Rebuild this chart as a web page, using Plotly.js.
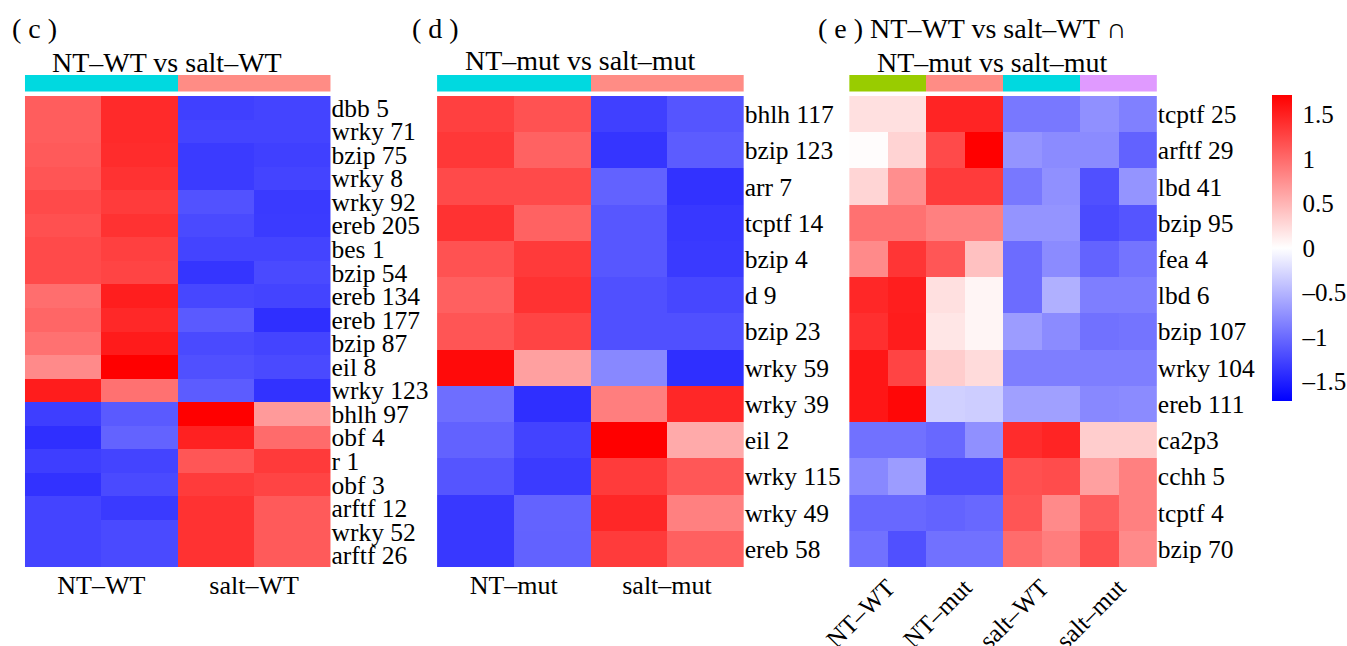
<!DOCTYPE html>
<html>
<head>
<meta charset="utf-8">
<script src="https://cdn.plot.ly/plotly-3.0.1.min.js"></script>
<style>html,body{margin:0;padding:0;background:#fff;}#chart{width:1347px;height:646px;}</style>
</head>
<body>
<div id="chart"></div>
<script>
// ---------- DATA ----------
const panelCGroups = ["NT–WT", "salt–WT"];
const panelCGroupColors = ["#00D9E0", "#FF8C85"];
const panelCColumnGroup = [0, 0, 1, 1];
const panelCRows = ["dbb 5","wrky 71","bzip 75","wrky 8","wrky 92","ereb 205","bes 1","bzip 54","ereb 134","ereb 177","bzip 87","eil 8","wrky 123","bhlh 97","obf 4","r 1","obf 3","arftf 12","wrky 52","arftf 26"];
const panelCValues = [
  [1.09, 1.44, -1.29, -1.26],
  [1.09, 1.44, -1.26, -1.26],
  [1.11, 1.42, -1.32, -1.29],
  [1.15, 1.38, -1.32, -1.26],
  [1.22, 1.32, -1.17, -1.33],
  [1.18, 1.38, -1.22, -1.32],
  [1.22, 1.29, -1.26, -1.26],
  [1.22, 1.26, -1.36, -1.22],
  [0.98, 1.52, -1.24, -1.26],
  [1.03, 1.45, -1.11, -1.40],
  [0.96, 1.54, -1.22, -1.26],
  [0.79, 1.72, -1.18, -1.22],
  [1.53, 0.96, -1.10, -1.38],
  [-1.30, -1.11, 1.72, 0.68],
  [-1.40, -1.05, 1.50, 1.00],
  [-1.30, -1.26, 1.14, 1.33],
  [-1.38, -1.22, 1.32, 1.26],
  [-1.26, -1.33, 1.38, 1.11],
  [-1.26, -1.22, 1.38, 1.11],
  [-1.26, -1.22, 1.38, 1.11]
];

const panelDGroups = ["NT–mut", "salt–mut"];
const panelDGroupColors = ["#00D9E0", "#FF8C85"];
const panelDColumnGroup = [0, 0, 1, 1];
const panelDRows = ["bhlh 117","bzip 123","arr 7","tcptf 14","bzip 4","d 9","bzip 23","wrky 59","wrky 39","eil 2","wrky 115","wrky 49","ereb 58"];
const panelDValues = [
  [1.29, 1.17, -1.29, -1.15],
  [1.34, 1.06, -1.36, -1.10],
  [1.22, 1.22, -1.06, -1.38],
  [1.38, 1.06, -1.13, -1.34],
  [1.17, 1.33, -1.13, -1.33],
  [1.07, 1.38, -1.18, -1.24],
  [1.15, 1.26, -1.18, -1.18],
  [1.65, 0.64, -0.80, -1.40],
  [-0.98, -1.40, 0.87, 1.46],
  [-1.06, -1.27, 1.72, 0.57],
  [-1.15, -1.32, 1.32, 1.13],
  [-1.34, -1.05, 1.46, 0.86],
  [-1.34, -1.06, 1.32, 1.07]
];

const panelEGroups = ["NT–WT", "NT–mut", "salt–WT", "salt–mut"];
const panelEGroupColors = ["#99CC00", "#FF8C85", "#00D9E0", "#E09AFF"];
const panelEColumnGroup = [0, 0, 1, 1, 2, 2, 3, 3];
const panelERows = ["tcptf 25","arftf 29","lbd 41","bzip 95","fea 4","lbd 6","bzip 107","wrky 104","ereb 111","ca2p3","cchh 5","tcptf 4","bzip 70"];
const panelEValues = [
  [0.21, 0.21, 1.48, 1.48, -0.91, -0.91, -0.75, -0.86],
  [0.02, 0.30, 1.22, 1.72, -0.72, -0.78, -0.78, -1.06],
  [0.28, 0.76, 1.32, 1.32, -0.91, -0.75, -1.18, -0.72],
  [0.96, 0.96, 0.86, 0.86, -0.72, -0.72, -1.22, -1.15],
  [0.79, 1.36, 1.14, 0.42, -0.99, -0.78, -1.05, -0.94],
  [1.46, 1.52, 0.21, 0.07, -0.99, -0.53, -0.87, -0.87],
  [1.40, 1.53, 0.17, 0.07, -0.67, -0.78, -0.96, -0.94],
  [1.57, 1.26, 0.34, 0.24, -0.87, -0.87, -0.87, -0.87],
  [1.57, 1.67, -0.32, -0.34, -0.64, -0.64, -0.80, -0.78],
  [-0.96, -0.96, -1.02, -0.75, 1.42, 1.48, 0.34, 0.34],
  [-0.80, -0.67, -1.21, -1.21, 1.18, 1.21, 0.64, 0.86],
  [-1.02, -1.02, -1.05, -1.02, 1.15, 0.79, 1.09, 0.86],
  [-0.96, -1.18, -0.96, -0.96, 0.99, 0.88, 1.19, 0.79]
];

const colorbarTicks = [-1.5, -1, -0.5, 0, 0.5, 1, 1.5];
const colorbarTickText = ["–1.5", "–1", "–0.5", "0", "0.5", "1", "1.5"];
const zLimit = 1.72;

// ---------- LAYOUT HELPERS ----------
const W = 1347, H = 646;
const FONT = "'Liberation Serif', 'Times New Roman', serif";
const fx = px => px / W;
const fy = py => 1 - py / H;

const panels = [
  {rows: panelCRows, vals: panelCValues, groups: panelCGroups, colors: panelCGroupColors, colGroup: panelCColumnGroup,
   x0: 25, x1: 332, rotate: false},
  {rows: panelDRows, vals: panelDValues, groups: panelDGroups, colors: panelDGroupColors, colGroup: panelDColumnGroup,
   x0: 439, x1: 747, rotate: false},
  {rows: panelERows, vals: panelEValues, groups: panelEGroups, colors: panelEGroupColors, colGroup: panelEColumnGroup,
   x0: 853, x1: 1162, rotate: true}
];
const hmTop = 96, hmBottom = 567, annTop = 75, annBottom = 91.5;

const data = [];
const layout = {
  width: W, height: H,
  margin: {l: 0, r: 0, t: 0, b: 0},
  paper_bgcolor: "#fff", plot_bgcolor: "#fff",
  font: {family: FONT, color: "#000", size: 24},
  showlegend: false,
  coloraxis: {
    cmin: -zLimit, cmax: zLimit,
    colorscale: [[0, "#0000FF"], [0.5, "#FFFFFF"], [1, "#FF0000"]],
    colorbar: {
      x: fx(1278), xanchor: "left", xpad: 0, ypad: 0,
      y: fy(95), yanchor: "top",
      len: 306 / H, lenmode: "fraction",
      thickness: 20, thicknessmode: "pixels",
      outlinewidth: 0, ticks: "outside", ticklen: 6, tickcolor: "rgba(0,0,0,0)",
      tickmode: "array", tickvals: colorbarTicks, ticktext: colorbarTickText,
      tickfont: {family: FONT, size: 25, color: "#000"}
    }
  },
  annotations: []
};

panels.forEach((p, i) => {
  const n = i + 1;
  const xa = n === 1 ? "x" : "x" + n;
  const ya = n === 1 ? "y" : "y" + n;
  const yaAnn = "y" + (n + 3);
  const ncol = p.colGroup.length;
  const cols = p.colGroup.map((g, j) => j);
  // heatmap
  data.push({
    type: "heatmap", x: cols, y: p.rows, z: p.vals,
    xaxis: xa, yaxis: ya, coloraxis: "coloraxis",
    hoverinfo: "skip"
  });
  // group annotation bar
  const ng = p.groups.length;
  const cs = p.colors.map((c, k) => [ng === 1 ? 0 : k / (ng - 1), c]);
  data.push({
    type: "heatmap", x: cols, y: [0], z: [p.colGroup],
    xaxis: xa, yaxis: yaAnn, zmin: 0, zmax: ng - 1,
    colorscale: cs, showscale: false, hoverinfo: "skip"
  });
  // group label positions (centre of each group)
  const tickvals = p.groups.map((g, k) => {
    const idx = cols.filter(j => p.colGroup[j] === k);
    return (idx[0] + idx[idx.length - 1]) / 2;
  });
  layout["xaxis" + (n === 1 ? "" : n)] = {
    domain: [fx(p.x0), fx(p.x1)], anchor: ya,
    range: [-0.5, ncol - 0.5], showgrid: false, zeroline: false, showline: false,
    ticks: "", ticklen: 0, tickmode: "array", tickvals: tickvals, ticktext: p.groups,
    tickangle: p.rotate ? -45 : 0,
    tickfont: {family: FONT, size: p.rotate ? 25 : 26, color: "#000"},
    fixedrange: true
  };
  layout["yaxis" + (n === 1 ? "" : n)] = {
    domain: [fy(hmBottom), fy(hmTop)], anchor: xa, side: "right",
    type: "category", autorange: "reversed",
    tickmode: "array", tickvals: p.rows, ticktext: p.rows,
    showgrid: false, zeroline: false, showline: false, ticks: "", ticklen: 0,
    tickfont: {family: FONT, size: 25.5, color: "#000"},
    fixedrange: true
  };
  layout["yaxis" + (n + 3)] = {
    domain: [fy(annBottom), fy(annTop)], anchor: xa,
    showgrid: false, zeroline: false, showline: false, showticklabels: false, ticks: "",
    fixedrange: true
  };
});

const ann = (text, x, y, size, xanchor) => ({
  text: text, x: fx(x), y: fy(y), xref: "paper", yref: "paper",
  showarrow: false, xanchor: xanchor || "center", yanchor: "middle",
  font: {family: FONT, size: size, color: "#000"}
});
layout.annotations.push(ann("( c )", 35, 29, 28));
layout.annotations.push(ann("NT–WT vs salt–WT", 168, 62, 28));
layout.annotations.push(ann("( d )", 437, 29, 28));
layout.annotations.push(ann("NT–mut vs salt–mut", 583, 61, 28));
layout.annotations.push(ann("( e ) NT–WT vs salt–WT ∩", 820, 29, 28, "left"));
layout.annotations.push(ann("NT–mut vs salt–mut", 879, 62, 28, "left"));

Plotly.newPlot("chart", data, layout, {staticPlot: true, displayModeBar: false});
</script>
</body>
</html>
